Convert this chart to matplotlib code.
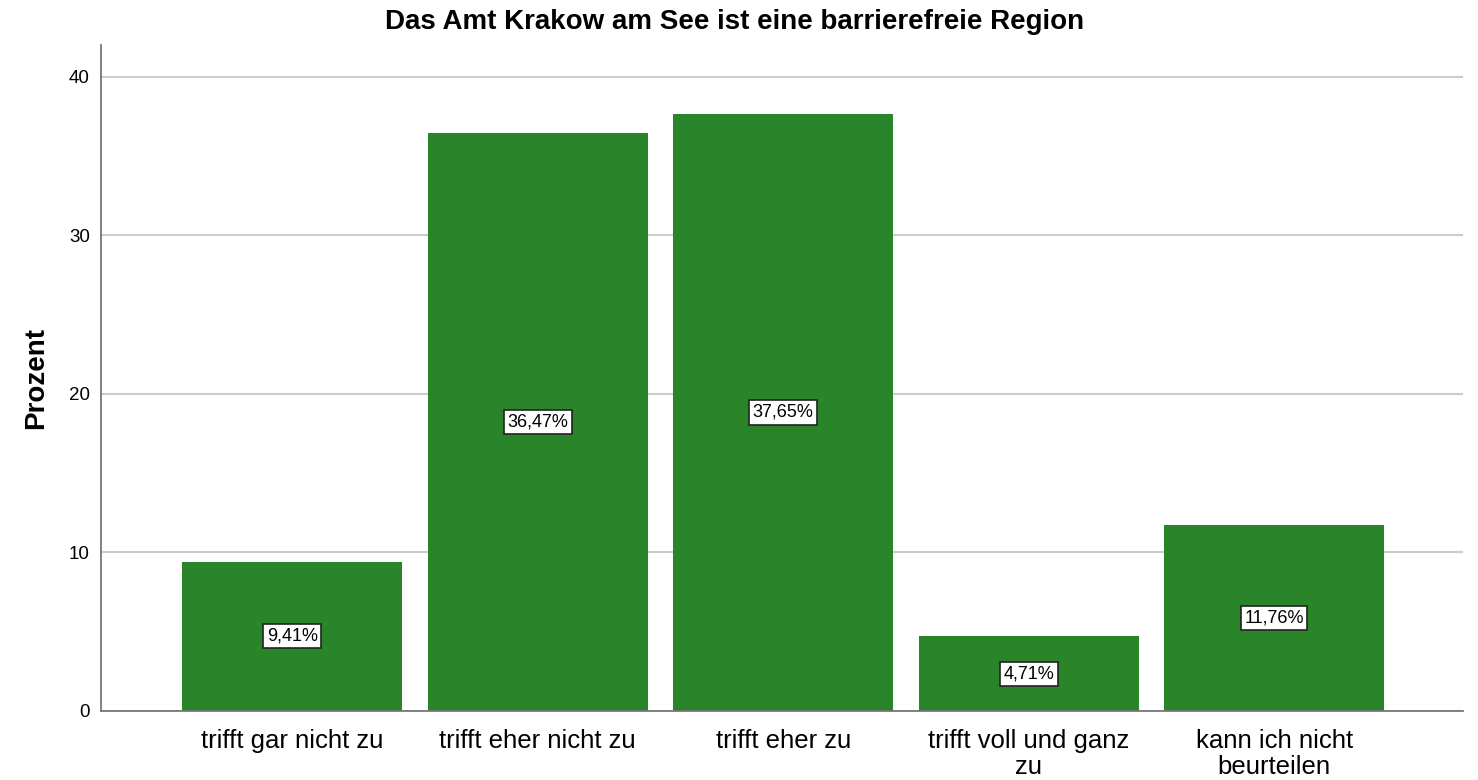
import matplotlib.pyplot as plt

plt.rcParams['font.family'] = ['Liberation Sans', 'DejaVu Sans']

# Daten
kategorien = ["trifft gar nicht zu", "trifft eher nicht zu", "trifft eher zu",
              "trifft voll und ganz\nzu", "kann ich nicht\nbeurteilen"]
prozent = [9.41, 36.47, 37.65, 4.71, 11.76]
beschriftung = ["9,41%", "36,47%", "37,65%", "4,71%", "11,76%"]

fig = plt.figure(figsize=(14.78, 7.8), dpi=100)
ax = fig.add_axes([0.0683, 0.0885, 0.9216, 0.8538])

x = range(len(kategorien))
ax.bar(x, prozent, width=0.896, color="#2a852a", zorder=2)

for xi, wert, txt in zip(x, prozent, beschriftung):
    ax.text(xi, wert / 2, txt, ha="center", va="center", fontsize=13, zorder=3,
            bbox=dict(boxstyle="square,pad=0.2", fc="white", ec="#222222", lw=1.2))

ax.set_xlim(-0.78, 4.77)
ax.set_ylim(0, 42)
ax.set_yticks([0, 10, 20, 30, 40])
ax.set_xticks(list(x))
ax.set_xticklabels(kategorien, fontsize=18.5, linespacing=1.1)
ax.tick_params(axis="x", length=0, pad=13)
ax.tick_params(axis="y", length=0, labelsize=13.5, pad=8)
ax.yaxis.grid(True, color="#cccccc", lw=1.5, zorder=0)
ax.set_axisbelow(True)

for s in ["top", "right"]:
    ax.spines[s].set_visible(False)
for s in ["left", "bottom"]:
    ax.spines[s].set_color("#777777")
    ax.spines[s].set_linewidth(1.3)

ax.set_ylabel("Prozent", fontsize=20, fontweight="bold", labelpad=14)
fig.suptitle("Das Amt Krakow am See ist eine barrierefreie Region",
             x=0.497, y=0.988, fontsize=20, fontweight="bold")

plt.savefig("out.png", dpi=100)
